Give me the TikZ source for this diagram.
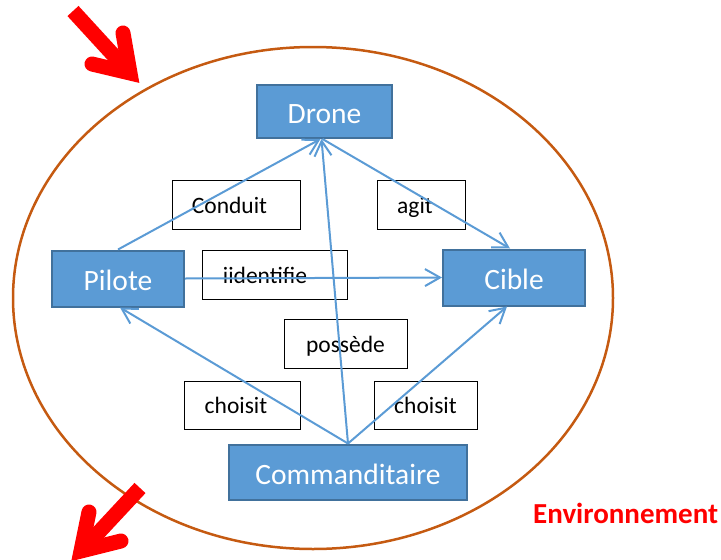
\documentclass[tikz,border=0pt]{standalone}
\usepackage{fontspec}
\setmainfont{Carlito}
\usetikzlibrary{arrows.meta}
\definecolor{boxblue}{HTML}{5B9BD5}
\definecolor{boxedge}{HTML}{41719C}
\definecolor{linkblue}{HTML}{5B9BD5}
\definecolor{ringc}{HTML}{C55A11}
\tikzset{
  entity/.style={draw=boxedge, fill=boxblue, line width=2pt, text=white,
    font=\fontsize{29.5}{32}\selectfont, inner sep=0pt, text height=29pt, text depth=5pt},
  relbox/.style={draw=black, line width=0.9pt,
    font=\fontsize{23.5}{28}\selectfont, inner sep=0pt, text height=22pt, text depth=5pt},
  link/.style={draw=linkblue, line width=2pt,
    -{Straight Barb[length=15pt,width=17pt,line width=2pt]}},
  bigarrow/.style={draw=red, line width=15pt}
}
\newcommand{\padr}[2]{\hbox{#1\kern#2}}
\begin{document}
\begin{tikzpicture}[x=1pt,y=-1pt]
\useasboundingbox (0,0) rectangle (721,560);
\clip (0,0) rectangle (721,560);
% environment ring
\draw[ringc, line width=2.5pt] (313,298) ellipse [x radius=300, y radius=251];
% entities
\node[entity, minimum width=135pt, minimum height=53pt] (drone) at (324.5,111.5) {Drone};
\node[entity, minimum width=132pt, minimum height=56pt] (pilote) at (118,278.5) {Pilote};
\node[entity, minimum width=142pt, minimum height=56pt] (cible) at (514,277.5) {Cible};
\node[entity, minimum width=238pt, minimum height=55pt] (comm) at (348,472) {Commanditaire};
% relation labels
\node[relbox, minimum width=128pt, minimum height=49pt] (conduit) at (236,204.5) {\padr{Conduit}{13pt}};
\node[relbox, minimum width=88pt, minimum height=49pt] (agit) at (421,204.5) {\padr{agit}{12pt}};
\node[relbox, minimum width=145pt, minimum height=49pt] (ident) at (274.5,274.5) {\padr{iidentifie}{19pt}};
\node[relbox, minimum width=123pt, minimum height=49pt] (possede) at (345.5,343.5) {possède};
\node[relbox, minimum width=116pt, minimum height=48pt] (choisitL) at (242,405) {\padr{choisit}{12pt}};
\node[relbox, minimum width=103pt, minimum height=48pt] (choisitR) at (425.5,405) {choisit};
% connectors
\draw[link] (pilote.north) -- ([xshift=-4pt]drone.south);
\draw[link] ([xshift=-2pt]drone.south) -- ([xshift=-4pt]cible.north);
\draw[link] (pilote.east) -- (cible.west);
\draw[link] (comm.north) -- ([xshift=-3pt]drone.south);
\draw[link] (comm.north) -- ([xshift=2pt]pilote.south);
\draw[link] (comm.north) -- ([xshift=-7pt]cible.south);
% red arrows
\draw[bigarrow] (73,11) -- (128,71);
\draw[bigarrow, line cap=round, line join=miter] (92,64) -- (130,73) -- (123,33);
\draw[bigarrow] (140,488) -- (86,546);
\draw[bigarrow, line cap=round, line join=miter] (89,512) -- (81,551) -- (121,541);
% label
\node[text=red, font=\bfseries\fontsize{29}{32}\selectfont, anchor=base west, inner sep=0pt] (env) at (533,523) {Environnement};
\end{tikzpicture}
\end{document}
